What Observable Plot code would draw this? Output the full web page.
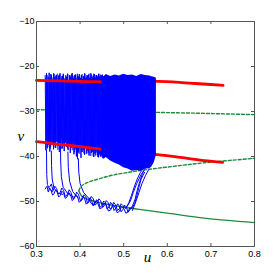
<!DOCTYPE html>
<html><head><meta charset="utf-8">
<script src="https://cdn.jsdelivr.net/npm/d3@7"></script>
<script src="https://cdn.jsdelivr.net/npm/@observablehq/plot@0.6"></script>
<style>body{margin:0;background:#fff}</style>
</head><body><div id="chart"></div><script>
// axis ticks
const xTicks = [0.3, 0.4, 0.5, 0.6, 0.7, 0.8];
const yTicks = [-60, -50, -40, -30, -20, -10];

// red branches [u, v]
const redUpper = [[0.300,-23.1],[0.400,-23.3],[0.500,-23.5],[0.578,-23.3],[0.650,-23.7],[0.700,-24.0],[0.728,-24.2]];
const redLower = [[0.300,-36.7],[0.350,-37.3],[0.400,-37.8],[0.450,-38.4],[0.500,-39.0],[0.577,-39.6],[0.630,-40.2],[0.685,-40.9],[0.727,-41.3]];

// green branches [u, v]
const greenDashUpper = [[0.300,-29.6],[0.450,-29.9],[0.578,-30.2],[0.676,-30.4],[0.800,-30.7]];
const greenDashFold = [[0.397,-47.6],[0.402,-46.7],[0.410,-46.1],[0.425,-45.5],[0.445,-44.9],[0.477,-44.1],[0.512,-43.5],[0.546,-43.0],[0.596,-42.4],[0.685,-41.4],[0.800,-40.4]];
const greenSolidLower = [[0.397,-47.6],[0.403,-48.7],[0.420,-49.6],[0.450,-50.4],[0.490,-51.1],[0.532,-51.7],[0.608,-52.7],[0.685,-53.7],[0.800,-54.7]];

// spikes in the sparse part: [u, peak v, trough v]
const spikes = [
 [0.320,-22.0,-38.6],[0.323,-21.5,-38.2],[0.3255,-23.0,-37.4],[0.329,-21.4,-38.9],[0.331,-22.6,-37.8],
 [0.334,-21.8,-36.9],[0.3375,-22.9,-38.4],[0.340,-21.6,-37.2],[0.3425,-22.3,-38.1],[0.346,-21.9,-36.8],
 [0.3485,-23.2,-37.6],[0.351,-22.0,-39.0],[0.354,-21.5,-37.1],[0.357,-22.7,-38.3],[0.3595,-22.1,-37.5],
 [0.362,-21.7,-38.8],[0.3655,-22.8,-36.9],[0.368,-22.2,-37.9],[0.371,-21.6,-38.6],[0.3735,-23.0,-37.3],
 [0.376,-21.9,-39.2],[0.379,-22.4,-38.0],[0.382,-21.5,-37.7],[0.3845,-22.6,-39.5],[0.387,-22.0,-38.4],
 [0.390,-21.8,-40.0],[0.3925,-23.1,-40.6],[0.395,-22.2,-39.1],[0.398,-21.7,-38.2],[0.4005,-22.5,-40.3],
 [0.403,-21.9,-39.0],[0.406,-22.8,-38.5],[0.4085,-22.1,-39.6],[0.411,-21.6,-38.1],[0.414,-22.4,-39.3],
 [0.4165,-22.0,-38.7],[0.419,-21.8,-39.8],[0.422,-22.6,-38.4],[0.4245,-21.5,-39.2],[0.427,-22.3,-38.9],
 [0.430,-22.0,-40.1],[0.4325,-21.7,-39.4],[0.435,-22.5,-38.8],[0.438,-21.9,-39.7],[0.4405,-22.2,-40.2],
 [0.443,-21.6,-39.5],[0.446,-22.4,-40.0],[0.4485,-22.0,-39.6],[0.451,-21.8,-40.3]
];
// second, interleaved pass of spikes
const spikes2 = [
 [0.3215,-22.6,-36.4],[0.3245,-21.9,-37.9],[0.327,-22.3,-36.1],[0.330,-22.9,-38.3],[0.3325,-21.7,-36.6],
 [0.3355,-22.4,-37.5],[0.339,-21.5,-35.9],[0.341,-22.8,-38.0],[0.344,-22.0,-36.7],[0.3475,-21.6,-38.5],
 [0.350,-22.5,-36.3],[0.3525,-21.8,-37.8],[0.3555,-23.0,-36.0],[0.358,-22.1,-38.1],[0.361,-21.6,-36.5],
 [0.3635,-22.6,-37.6],[0.367,-21.9,-36.2],[0.3695,-22.4,-38.2],[0.372,-21.7,-36.8],[0.375,-22.9,-37.4],
 [0.3775,-22.0,-36.4],[0.3805,-21.6,-38.6],[0.383,-22.7,-36.9],[0.386,-22.1,-39.0],[0.3885,-21.8,-37.2],
 [0.391,-22.5,-38.8],[0.394,-21.6,-37.6],[0.3965,-22.3,-39.4],[0.399,-21.9,-37.4],[0.402,-22.7,-38.9],
 [0.4045,-21.7,-37.8],[0.407,-22.2,-39.3],[0.410,-21.5,-38.0],[0.4125,-22.6,-39.5],[0.4155,-21.9,-37.9],
 [0.418,-22.3,-39.2],[0.4205,-21.6,-38.3],[0.423,-22.4,-39.9],[0.426,-21.8,-38.6],[0.4285,-22.5,-40.0],
 [0.431,-21.6,-38.9],[0.434,-22.2,-39.8],[0.4365,-21.9,-39.1],[0.439,-22.4,-40.1],[0.442,-21.7,-39.3],
 [0.4445,-22.1,-40.0],[0.447,-21.8,-39.5],[0.4495,-22.3,-40.2]
];

// dense spiking block
const denseU   = [0.450,0.455,0.460,0.470,0.480,0.490,0.500,0.510,0.520,0.530,0.540,0.550,0.560,0.565,0.570,0.575];
const denseTop = [-22.0,-22.3,-21.8,-22.2,-21.9,-22.1,-21.7,-22.0,-21.9,-22.2,-21.8,-22.0,-22.1,-22.3,-22.4,-22.6];
const denseBot = [-40.0,-40.6,-40.2,-41.0,-41.5,-41.9,-42.5,-42.8,-43.3,-43.1,-43.3,-42.8,-42.7,-42.3,-41.4,-39.8];

// slow trajectories dropping to the lower band and returning [u, v]
const trajA = [[0.323,-38.5],[0.3232,-41.0],[0.3235,-44.0],[0.325,-46.2],[0.330,-47.3],[0.338,-47.8]];
const trajB = [[0.334,-38.8],[0.3345,-42.0],[0.336,-45.0],[0.340,-47.0],[0.350,-48.2],[0.360,-48.4]];
const trajC = [[0.355,-37.5],[0.3555,-41.0],[0.357,-44.5],[0.361,-46.8],[0.372,-48.3],[0.385,-49.0]];
const trajD = [[0.372,-39.0],[0.373,-42.5],[0.376,-45.5],[0.383,-47.8],[0.395,-49.2]];
const trajE = [[0.396,-40.5],[0.397,-43.5],[0.400,-46.0],[0.408,-48.0],[0.420,-49.3]];
const band1 = [[0.320,-47.2],[0.324,-46.6],[0.327,-47.9],[0.330,-47.0],[0.333,-47.4],[0.337,-48.6],[0.340,-48.3],[0.344,-47.4],[0.347,-47.8],[0.351,-49.0],[0.355,-48.6],[0.358,-47.7],[0.362,-48.1],[0.366,-49.3],[0.370,-49.0],[0.374,-48.0],[0.378,-48.5],[0.382,-49.8],[0.386,-49.4],[0.390,-48.4],[0.394,-48.9],[0.398,-50.2],[0.402,-49.8],[0.406,-48.8],[0.410,-49.3],[0.414,-50.6],[0.418,-50.2],[0.422,-49.2],[0.426,-49.6],[0.430,-51.0],[0.434,-50.5],[0.438,-49.6],[0.442,-50.0],[0.446,-51.3],[0.450,-50.9],[0.454,-49.9],[0.458,-50.3],[0.462,-51.7],[0.466,-51.2],[0.470,-50.2],[0.474,-50.6],[0.478,-52.0],[0.482,-51.5],[0.486,-50.5],[0.490,-51.0],[0.494,-52.3],[0.498,-51.8],[0.502,-50.8],[0.506,-51.2],[0.510,-52.4],[0.514,-51.9],[0.520,-51.0],[0.526,-49.5],[0.531,-47.5],[0.537,-45.5],[0.543,-43.8],[0.550,-42.5]];
const band2 = [[0.330,-46.8],[0.334,-46.1],[0.338,-47.6],[0.342,-46.6],[0.346,-47.1],[0.350,-48.3],[0.354,-48.1],[0.358,-47.0],[0.362,-47.5],[0.366,-48.9],[0.370,-48.5],[0.375,-47.4],[0.379,-48.0],[0.384,-49.4],[0.388,-49.1],[0.392,-47.9],[0.396,-48.4],[0.401,-49.9],[0.405,-49.6],[0.409,-48.5],[0.413,-48.9],[0.417,-50.4],[0.421,-50.0],[0.425,-48.9],[0.430,-49.3],[0.434,-50.8],[0.439,-50.4],[0.443,-49.4],[0.447,-49.8],[0.452,-51.3],[0.456,-50.9],[0.460,-49.8],[0.464,-50.2],[0.469,-51.7],[0.473,-51.3],[0.477,-50.2],[0.481,-50.7],[0.486,-52.0],[0.490,-51.6],[0.494,-50.5],[0.498,-50.9],[0.505,-51.5],[0.512,-50.2],[0.518,-48.6],[0.524,-46.8],[0.531,-45.0],[0.538,-43.6],[0.545,-42.6]];
const band3 = [[0.420,-49.3],[0.425,-50.4],[0.430,-50.8],[0.435,-49.9],[0.440,-50.2],[0.445,-51.6],[0.450,-51.4],[0.455,-50.4],[0.460,-50.8],[0.465,-52.1],[0.470,-51.9],[0.475,-50.8],[0.480,-51.2],[0.485,-52.5],[0.490,-52.2],[0.495,-51.1],[0.500,-51.5],[0.505,-52.6],[0.510,-52.3],[0.514,-51.4],[0.518,-51.6],[0.525,-50.5],[0.530,-48.8],[0.535,-46.8],[0.540,-45.0],[0.548,-43.5]];
const rise1 = [[0.505,-51.5],[0.515,-50.0],[0.522,-48.0],[0.530,-46.0],[0.540,-44.0],[0.548,-42.8]];
const rise2 = [[0.520,-52.0],[0.528,-50.0],[0.535,-48.0],[0.542,-46.0],[0.550,-44.2],[0.558,-42.8]];

// build zigzags from spikes
const zigOf = s => s.flatMap(([u, top, bot]) => [[u, top], [u + 0.0015, bot]]);
const zig = zigOf(spikes), zig2 = zigOf(spikes2);
const dense = denseU.map((u, i) => ({u, top: denseTop[i], bot: denseBot[i]}));

const BLUE = "#0000ff", RED = "#ff0000", GREEN = "#1f8c3b";
const dx3 = 3 * 0.5 / 218, dy3 = 3 * 50 / 225;
const P = {x: d => d[0], y: d => d[1]};

const chart = Plot.plot({
  width: 277, height: 277,
  marginLeft: 36, marginRight: 23, marginTop: 21, marginBottom: 31,
  style: {fontFamily: "'Liberation Sans', Arial, sans-serif", fontSize: "9px", background: "white", color: "#000"},
  x: {domain: [0.3, 0.8]},
  y: {domain: [-60, -10]},
  marks: [
    Plot.axisX({ticks: xTicks, tickSize: 0, tickPadding: 4, label: null, tickFormat: d => d.toFixed(1)}),
    Plot.axisY({ticks: yTicks, tickSize: 0, tickPadding: 2, label: null}),
    Plot.line(greenDashUpper, {...P, stroke: GREEN, strokeWidth: 1.4, strokeDasharray: "3,2", curve: "monotone-x"}),
    Plot.line(greenSolidLower, {...P, stroke: GREEN, strokeWidth: 1.4, curve: "catmull-rom"}),
    Plot.line(zig, {...P, stroke: BLUE, strokeWidth: 1}),
    Plot.line(zig2, {...P, stroke: BLUE, strokeWidth: 0.8, strokeOpacity: 0.8}),
    ...[trajA, trajB, trajC, trajD, trajE, band1, band2, band3, rise1, rise2].map(t =>
      Plot.line(t, {...P, stroke: BLUE, strokeWidth: 1})),
    Plot.line(greenDashFold, {...P, stroke: GREEN, strokeWidth: 1.4, strokeDasharray: "3,2", curve: "catmull-rom"}),
    Plot.line(redUpper, {...P, stroke: RED, strokeWidth: 2.8, curve: "monotone-x"}),
    Plot.line(redLower, {...P, stroke: RED, strokeWidth: 2.8, curve: "monotone-x"}),
    Plot.areaY(dense, {x: "u", y1: "bot", y2: "top", fill: BLUE}),
    Plot.ruleX(xTicks, {x: d => d, y1: -60, y2: -60 + dy3, stroke: "#555"}),
    Plot.ruleX(xTicks, {x: d => d, y1: -10, y2: -10 - dy3, stroke: "#555"}),
    Plot.ruleY(yTicks, {y: d => d, x1: 0.3, x2: 0.3 + dx3, stroke: "#555"}),
    Plot.ruleY(yTicks, {y: d => d, x1: 0.8, x2: 0.8 - dx3, stroke: "#555"}),
    Plot.frame({stroke: "#555"}),
    Plot.text(["u"], {frameAnchor: "bottom", dy: 15, dx: 2, fontFamily: "'Liberation Serif', 'Times New Roman', serif", fontStyle: "italic", fontSize: 15}),
    Plot.text(["v"], {frameAnchor: "left", dx: -19, dy: 2, fontFamily: "'Liberation Serif', 'Times New Roman', serif", fontStyle: "italic", fontSize: 15})
  ]
});
document.getElementById("chart").append(chart);
</script></body></html>
